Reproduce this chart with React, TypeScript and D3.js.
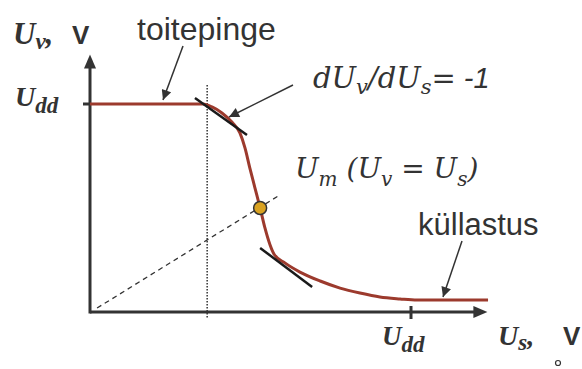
import React from "react";
import * as d3 from "d3";

// Transfer characteristic of an inverter: output voltage Uv vs input voltage Us (units of Udd)
const curveUs = [0, 0.352, 0.38, 0.411, 0.442, 0.467, 0.483, 0.498, 0.514, 0.53, 0.545, 0.561, 0.573, 0.607, 0.654, 0.717, 0.779, 0.841, 0.903, 0.966, 1.019, 1.24];
const curveUv = [1, 1, 0.986, 0.957, 0.913, 0.861, 0.788, 0.692, 0.596, 0.5, 0.404, 0.322, 0.279, 0.236, 0.192, 0.149, 0.115, 0.091, 0.072, 0.063, 0.058, 0.058];

// Tangents with slope -1 at the two unity-gain points
const upperTangent = [[0.327, 1.029], [0.489, 0.851]];
const lowerTangent = [[0.53, 0.308], [0.692, 0.12]];

// Uv = Us reference line and switching point Um
const diagonal = [[0.022, 0.019], [0.592, 0.563]];
const switchPoint = [0.53, 0.5];

// Dotted marker at the upper unity-gain input voltage
const gainMarkUs = 0.365;

const axisMax = 1.238;

const ink = "#333333";
const curveColor = "#9c3a2d";

export default function App() {
  const W = 582;
  const H = 369;
  const x = d3.scaleLinear().domain([0, 1]).range([90, 411]);
  const y = d3.scaleLinear().domain([0, 1]).range([312, 104]);

  const pts: [number, number][] = curveUs.map((u, i) => [u, curveUv[i]]);
  const line = d3
    .line<[number, number]>()
    .x((d) => x(d[0]))
    .y((d) => y(d[1]))
    .curve(d3.curveMonotoneX);

  const serifBI = {
    fontFamily: "'Liberation Serif', 'Times New Roman', serif",
    fontWeight: "bold",
    fontStyle: "italic",
  } as const;
  const serifI = {
    fontFamily: "'DejaVu Serif', 'Liberation Serif', serif",
    fontStyle: "italic",
  } as const;
  const sans = { fontFamily: "'Liberation Sans', Arial, sans-serif" } as const;

  const x0 = x(0);
  const y0 = y(0);

  return (
    <svg width={W} height={H} style={{ position: "absolute", left: 0, top: 0 }}>
      <defs>
        <marker id="ah" viewBox="0 0 10 10" refX="10" refY="5" markerWidth="12" markerHeight="10" markerUnits="userSpaceOnUse" orient="auto">
          <path d="M0,0 L10,5 L0,10 z" fill={ink} />
        </marker>
      </defs>
      <rect width={W} height={H} fill="#ffffff" />

      {/* Uv = Us reference */}
      <line
        x1={x(diagonal[0][0])}
        y1={y(diagonal[0][1])}
        x2={x(diagonal[1][0])}
        y2={y(diagonal[1][1])}
        stroke={ink}
        strokeWidth={1.3}
        strokeDasharray="5 4"
      />

      {/* dotted vertical marker */}
      <line x1={x(gainMarkUs)} x2={x(gainMarkUs)} y1={85} y2={318} stroke={ink} strokeWidth={1.5} strokeDasharray="1.5 1.5" />

      {/* axes */}
      <line x1={x0} y1={y0} x2={x(axisMax) - 10} y2={y0} stroke={ink} strokeWidth={3} />
      <path d={`M${x(axisMax)},${y0} L${x(axisMax) - 14},${y0 - 6} L${x(axisMax) - 14},${y0 + 6} z`} fill={ink} />
      <line x1={x0} y1={y0 + 1.5} x2={x0} y2={y(axisMax) + 10} stroke={ink} strokeWidth={3} />
      <path d={`M${x0},${y(axisMax)} L${x0 - 6},${y(axisMax) + 14} L${x0 + 6},${y(axisMax) + 14} z`} fill={ink} />

      {/* Udd ticks */}
      <line x1={x0 - 7} x2={x0} y1={y(1)} y2={y(1)} stroke={ink} strokeWidth={3} />
      <line x1={x(1)} x2={x(1)} y1={y0 - 6} y2={y0 + 7} stroke={ink} strokeWidth={3} />

      {/* transfer curve */}
      <path d={line(pts) ?? ""} fill="none" stroke={curveColor} strokeWidth={3} strokeLinejoin="round" />

      {/* tangents */}
      <line x1={x(upperTangent[0][0])} y1={y(upperTangent[0][1])} x2={x(upperTangent[1][0])} y2={y(upperTangent[1][1])} stroke="#1a1a1a" strokeWidth={2.5} />
      <line x1={x(lowerTangent[0][0])} y1={y(lowerTangent[0][1])} x2={x(lowerTangent[1][0])} y2={y(lowerTangent[1][1])} stroke="#1a1a1a" strokeWidth={2.5} />

      {/* switching point */}
      <circle cx={x(switchPoint[0])} cy={y(switchPoint[1])} r={6.5} fill="#d9a221" stroke={ink} strokeWidth={1.5} />

      {/* annotation arrows */}
      <line x1={183} y1={46} x2={163} y2={100} stroke={ink} strokeWidth={1.5} markerEnd="url(#ah)" />
      <line x1={293} y1={85} x2={229} y2={117} stroke={ink} strokeWidth={1.5} markerEnd="url(#ah)" />
      <line x1={462} y1={241} x2={443} y2={297} stroke={ink} strokeWidth={1.5} markerEnd="url(#ah)" />

      {/* labels */}
      <text x={13} y={44} fill={ink} style={serifBI} fontSize={31}>
        U<tspan fontSize={23} dy={5}>v</tspan>
        <tspan dy={-5}>,</tspan>
        <tspan x={72} style={sans} fontStyle="normal" fontWeight="bold" fontSize={26}>V</tspan>
      </text>

      <text x={137} y={40} fill={ink} style={sans} fontSize={32}>toitepinge</text>

      <text x={313} y={88} fill={ink} style={serifI} fontSize={29}>
        dU<tspan fontSize={21} dy={6}>v</tspan>
        <tspan dy={-6}>/dU</tspan>
        <tspan fontSize={21} dy={6}>s</tspan>
        <tspan dy={-6}>=</tspan>
        <tspan style={sans} fontStyle="italic"> -1</tspan>
      </text>

      <text x={295} y={178} fill={ink} style={serifI} fontSize={28}>
        U<tspan fontSize={20} dy={8}>m</tspan>
        <tspan dy={-8}> (U</tspan>
        <tspan fontSize={20} dy={8}>v</tspan>
        <tspan dy={-8}> = U</tspan>
        <tspan fontSize={20} dy={8}>s</tspan>
        <tspan dy={-8}>)</tspan>
      </text>

      <text x={418} y={235} fill={ink} style={sans} fontSize={31}>küllastus</text>

      <text x={15} y={106} fill={ink} style={serifBI} fontSize={28}>
        U<tspan fontSize={23} dy={7}>dd</tspan>
      </text>

      <text x={382} y={345} fill={ink} style={serifBI} fontSize={27}>
        U<tspan fontSize={23} dy={7}>dd</tspan>
      </text>

      <text x={498} y={345} fill={ink} style={serifBI} fontSize={28}>
        U<tspan fontSize={23} dy={5}>s</tspan>
        <tspan dy={-5}>,</tspan>
        <tspan x={563} style={sans} fontStyle="normal" fontWeight="bold" fontSize={26}>V</tspan>
      </text>
      <circle cx={558} cy={363} r={2.5} fill="none" stroke={ink} strokeWidth={1.2} />
    </svg>
  );
}
